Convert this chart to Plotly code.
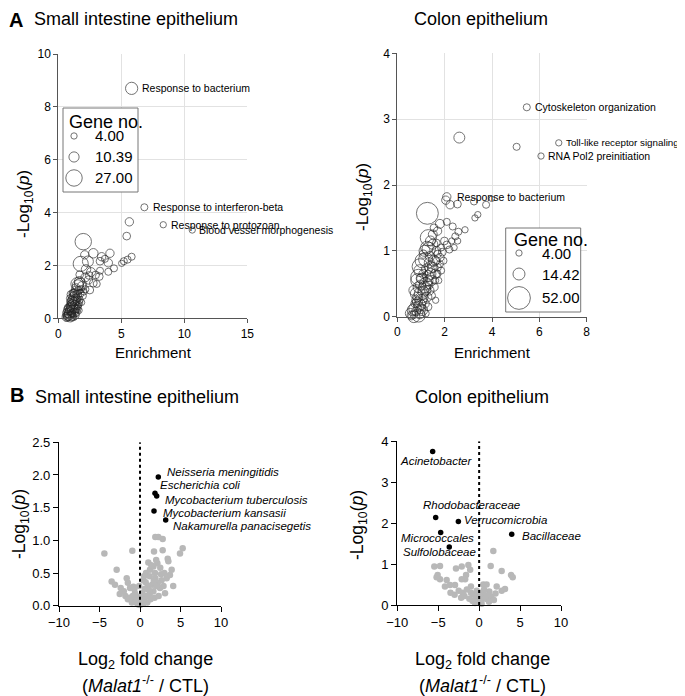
import plotly.graph_objects as go

# A: GO enrichment bubbles
si_enrich = [5.82, 6.83, 8.33, 10.63,
             5.64, 5.43, 1.98, 1.78, 2.78, 3.44, 4.10, 3.31, 3.97, 3.70, 5.82, 5.50, 5.20, 5.03,
             4.42, 3.97, 3.31, 2.96, 2.20, 2.45, 1.67, 1.86, 2.40, 2.78, 3.25, 2.50, 3.05, 2.15,
             1.55, 1.40, 1.75, 1.30, 1.55, 1.20, 1.45, 1.70, 1.10, 1.35, 1.60, 1.00, 1.25, 1.50,
             0.90, 1.15, 1.40, 0.85, 1.05, 1.30, 0.75, 0.95, 1.20, 0.70, 1.00, 1.85, 1.95, 0.95,
             1.65, 0.60, 1.10, 1.80, 2.05, 1.25,
             0.70, 0.80, 0.90, 1.00, 1.10, 1.20, 1.30, 1.40, 0.80, 0.90, 1.00, 1.10, 1.20, 1.30,
             1.40, 1.50, 1.60, 0.65, 1.05, 1.25, 1.35, 1.55, 1.65, 0.95, 1.15, 0.75, 1.50, 1.75,
             2.60, 2.35, 2.15, 2.10, 1.70]
si_logp = [8.70, 4.20, 3.54, 3.34,
           3.65, 3.11, 2.90, 2.06, 2.46, 2.33, 2.46, 2.16, 2.10, 2.25, 2.33, 2.22, 2.16, 2.08,
           1.89, 1.76, 1.80, 1.64, 1.85, 1.62, 1.39, 1.22, 1.45, 1.33, 1.58, 1.07, 1.30, 1.10,
           1.25, 1.05, 0.95, 0.85, 0.80, 0.70, 0.65, 0.70, 0.55, 0.50, 0.52, 0.42, 0.38, 0.35,
           0.30, 0.28, 0.22, 0.18, 0.15, 0.12, 0.08, 0.05, 0.04, 0.02, 0.90, 0.60, 0.85, 0.62,
           0.30, 0.10, 0.20, 1.10, 1.00, 0.95,
           0.20, 0.30, 0.40, 0.50, 0.65, 0.80, 0.95, 1.15, 0.10, 0.20, 0.30, 0.40, 0.55, 0.65,
           0.75, 0.90, 1.05, 0.05, 0.08, 0.20, 0.35, 0.45, 0.60, 0.75, 0.95, 0.40, 1.30, 1.30,
           1.75, 2.15, 1.55, 2.40, 1.65]
si_genes = [15, 5, 4, 4,
            7, 6, 27, 23, 9, 7, 7, 6, 7, 5, 5, 5, 5, 4,
            5, 5, 5, 6, 9, 6, 10, 8, 7, 6, 6, 6, 5, 5,
            12, 8, 6, 9, 7, 10, 6, 5, 8, 9, 5, 7, 10, 6,
            8, 12, 7, 9, 6, 8, 6, 10, 5, 5, 6, 4, 5, 5,
            4, 4, 5, 5, 4, 7,
            8, 10, 9, 8, 10, 9, 8, 7, 10, 12, 10, 12, 10, 9,
            8, 7, 6, 8, 9, 8, 7, 5, 5, 6, 6, 5, 16, 14,
            8, 12, 8, 7, 6]
si_terms = ["Response to bacterium", "Response to interferon-beta",
            "Response to protozoan", "Blood vessel morphogenesis"]
si_legend = [4.00, 10.39, 27.00]

co_enrich = [5.47, 6.82, 6.07, 2.09,
             2.62, 5.04, 3.99, 3.75, 3.24, 2.54, 2.23, 2.05, 3.40, 3.28, 2.86, 1.27, 1.31, 2.09,
             1.80, 2.34, 2.58, 2.45, 1.99, 2.09, 2.30, 2.20, 1.90, 0.96, 1.33, 1.20,
             1.50, 1.65, 1.80, 1.55, 1.40, 1.70, 1.60, 1.30, 1.45, 1.20, 1.55, 1.35, 1.10, 1.25,
             1.45, 1.00, 1.15, 0.90, 1.05, 0.80, 0.95, 0.70, 0.60, 1.20, 0.85, 0.98, 1.10, 1.75,
             1.85, 1.95, 1.62, 1.30, 0.75, 1.00, 1.38, 1.10, 2.40, 2.55,
             0.85, 0.95, 1.05, 1.15, 1.25, 1.40, 1.50, 0.70, 0.80, 0.90, 1.00, 1.15, 1.30, 1.40,
             1.50, 1.60, 1.70, 0.65, 0.75, 0.85, 0.95, 1.10, 1.20, 1.35, 1.05, 1.25, 1.35, 0.90,
             0.80, 0.55, 0.70, 0.90, 1.00, 1.60, 1.70, 1.80, 1.65, 1.85, 1.55, 1.70]
co_logp = [3.18, 2.64, 2.44, 1.82,
           2.72, 2.58, 1.79, 1.70, 1.75, 1.71, 1.70, 1.77, 1.55, 1.50, 1.32, 1.57, 1.20, 1.44,
           1.41, 1.37, 1.29, 1.22, 1.15, 1.09, 1.15, 1.02, 0.98, 0.76, 1.03, 0.87,
           1.10, 1.00, 0.90, 0.85, 0.75, 0.75, 0.65, 0.62, 0.55, 0.50, 0.45, 0.40, 0.38, 0.30,
           0.32, 0.25, 0.20, 0.15, 0.10, 0.08, 0.04, 0.03, 0.02, 0.05, 0.30, 0.48, 0.65, 0.55,
           0.70, 0.85, 0.25, 0.15, 0.20, 0.58, 0.92, 0.95, 1.05, 1.15,
           0.55, 0.70, 0.85, 1.00, 1.05, 1.15, 1.25, 0.40, 0.35, 0.45, 0.35, 0.45, 0.55, 0.65,
           0.75, 0.85, 0.95, 0.10, 0.12, 0.22, 0.18, 0.28, 0.40, 0.48, 0.58, 0.72, 0.82, 0.60,
           0.25, 0.05, 0.00, 0.02, 0.12, 0.55, 0.65, 0.80, 1.12, 1.05, 1.35, 1.30]
co_genes = [5, 4, 4, 7,
            12, 5, 3, 5, 5, 6, 7, 7, 4, 4, 4, 48, 26, 5,
            8, 5, 5, 5, 6, 6, 4, 5, 6, 25, 18, 20,
            10, 8, 7, 12, 14, 6, 9, 12, 10, 16, 7, 9, 12, 10,
            6, 14, 9, 10, 12, 8, 9, 6, 8, 5, 9, 10, 8, 4,
            5, 5, 4, 6, 7, 9, 9, 7, 4, 4,
            18, 14, 20, 12, 16, 10, 8, 10, 14, 12, 18, 14, 10, 12,
            10, 8, 6, 12, 16, 10, 14, 8, 10, 6, 12, 12, 10, 25,
            8, 10, 14, 18, 10, 5, 5, 5, 6, 5, 6, 7]
co_terms = ["Cytoskeleton organization", "Toll-like receptor signaling",
            "RNA Pol2 preinitiation", "Response to bacterium"]
co_legend = [4.00, 14.42, 52.00]

# B: microbiome volcano plots
si_fc = [-4.40, -0.95, -2.88, -3.50, -1.64, 1.89, 2.26, 2.80, 5.27, 4.94, 2.80, 1.73, 3.42,
         3.50, 2.14, 1.65, 1.03, 1.23, 1.85, 3.91, 3.29, 2.67, 3.70, 0.74, 0.41, -2.38, -3.09,
         -1.23, -0.82, -0.62, 4.10, 2.47, 1.65, 3.09, 2.00, 1.40, 2.50, 1.20, 1.90, 2.20, 1.00,
         1.50, 2.90, -1.80, -1.50, -0.50, -0.30, 0.20, 0.50, 0.80, 1.20, -1.00, -0.70, 0.30,
         0.60, 1.30, 0.90, -0.20, 0.00, 0.40, -0.40, 1.80, 2.30, -2.00, -1.20, 0.10, -0.10,
         0.70, 1.10, -2.50, -0.90, 2.00, 1.70, 0.50, 2.60, 3.00, -1.50]
si_p = [0.80, 0.84, 0.55, 0.37, 0.42, 1.05, 1.05, 1.02, 0.88, 0.80, 0.85, 0.83, 0.72,
        0.68, 0.65, 0.60, 0.66, 0.55, 0.50, 0.55, 0.42, 0.39, 0.47, 0.50, 0.39, 0.27, 0.32,
        0.27, 0.29, 0.19, 0.30, 0.27, 0.22, 0.19, 0.70, 0.62, 0.58, 0.45, 0.42, 0.35, 0.30,
        0.32, 0.30, 0.15, 0.10, 0.08, 0.12, 0.05, 0.10, 0.15, 0.18, 0.05, 0.25, 0.20,
        0.26, 0.10, 0.05, 0.02, 0.01, 0.03, 0.04, 0.12, 0.15, 0.22, 0.12, 0.15, 0.30,
        0.36, 0.24, 0.18, 0.15, 0.30, 0.38, 0.45, 0.48, 0.50, 0.35]
si_hit_fc = [2.26, 1.85, 2.06, 1.73, 3.17]
si_hit_p = [1.97, 1.72, 1.68, 1.45, 1.31]
si_hit_names = ["Neisseria meningitidis", "Escherichia coli", "Mycobacterium tuberculosis",
                "Mycobacterium kansasii", "Nakamurella panacisegetis"]

co_fc = [1.73, -5.48, -4.78, -2.13, -2.83, -1.32, -1.10, -1.60, -1.71, -2.13, -5.07, -4.78,
         -3.97, -3.56, -2.95, -4.18, -5.20, 1.41, 2.75, 3.89, 4.10, 0.51, 0.91, 2.14, 1.24,
         2.75, 3.16, -2.50, -2.00, -1.50, -1.00, -0.70, -0.40, -0.20, 0.00, 0.20, 0.40, 0.60,
         0.80, 1.00, 1.50, 2.00, -1.20, -0.80, 0.30, -0.50, 1.20, -1.80, -3.00, -2.20, 0.60,
         -0.30, 1.80, -3.50, -1.00, 0.10]
co_p = [1.32, 0.94, 0.95, 0.94, 0.89, 0.98, 0.86, 0.73, 0.63, 0.63, 0.73, 0.63,
        0.61, 0.49, 0.49, 0.45, 0.68, 0.95, 0.83, 0.73, 0.68, 0.50, 0.50, 0.45, 0.33,
        0.35, 0.39, 0.35, 0.30, 0.38, 0.30, 0.25, 0.20, 0.12, 0.05, 0.10, 0.18, 0.25,
        0.15, 0.22, 0.20, 0.28, 0.15, 0.10, 0.03, 0.05, 0.08, 0.22, 0.25, 0.18, 0.38,
        0.35, 0.12, 0.30, 0.45, 0.30]
co_hit_fc = [-5.68, -5.31, -2.54, -4.70, -3.65, 3.98]
co_hit_p = [3.75, 2.14, 2.04, 1.77, 1.42, 1.73]
co_hit_names = ["Acinetobacter", "Rhodobacteraceae", "Verrucomicrobia",
                "Micrococcales", "Sulfolobaceae", "Bacillaceae"]

# page body has an 8px margin, so the figure is drawn 8px in from the corner
OFF = 8
W, H = 685 - OFF, 696 - OFF
FONT = "Liberation Sans, Arial, sans-serif"
SIZEREF = 0.2


def px_x(p):
    return max(p - OFF, 0) / W


def px_y(p):
    return 1 - max(p - OFF, 0) / H


fig = go.Figure()

bubble = dict(sizemode="area", sizeref=SIZEREF, color="rgba(0,0,0,0)",
              line=dict(color="#222", width=0.9))

fig.add_trace(go.Scatter(x=si_enrich, y=si_logp, mode="markers", xaxis="x", yaxis="y",
                         marker=dict(size=si_genes, **bubble), cliponaxis=False))
fig.add_trace(go.Scatter(x=co_enrich, y=co_logp, mode="markers", xaxis="x2", yaxis="y2",
                         marker=dict(size=co_genes, **bubble), cliponaxis=False))

# size legends (drawn on their own hidden axes)
si_leg_y = [0.667, 0.417, 0.167]
co_leg_y = [0.702, 0.452, 0.167]
fig.add_trace(go.Scatter(x=[0.147] * 3, y=si_leg_y, mode="markers",
                         xaxis="x5", yaxis="y5", marker=dict(size=si_legend, **bubble)))
fig.add_trace(go.Scatter(x=[0.177] * 3, y=co_leg_y, mode="markers",
                         xaxis="x6", yaxis="y6", marker=dict(size=co_legend, **bubble)))

fig.add_trace(go.Scatter(x=si_fc, y=si_p, mode="markers", xaxis="x3", yaxis="y3",
                         marker=dict(size=6.5, color="#b8b8b8"), cliponaxis=False))
fig.add_trace(go.Scatter(x=si_hit_fc, y=si_hit_p, mode="markers", xaxis="x3", yaxis="y3",
                         marker=dict(size=5.5, color="black"), cliponaxis=False))
fig.add_trace(go.Scatter(x=co_fc, y=co_p, mode="markers", xaxis="x4", yaxis="y4",
                         marker=dict(size=6.5, color="#b8b8b8"), cliponaxis=False))
fig.add_trace(go.Scatter(x=co_hit_fc, y=co_hit_p, mode="markers", xaxis="x4", yaxis="y4",
                         marker=dict(size=5.5, color="black"), cliponaxis=False))

tick_a = dict(size=12, family=FONT, color="black")
tick_b = dict(size=13, family=FONT, color="black")


def axis_a(dom, rng, dtick, anchor):
    return dict(domain=dom, range=rng, dtick=dtick, anchor=anchor, showgrid=True,
                gridcolor="#e2e2e2", gridwidth=1, zeroline=False, showline=True,
                linecolor="#555", linewidth=1, ticks="outside", ticklen=4,
                tickcolor="#555", tickfont=tick_a, automargin=False)


def axis_b(dom, rng, dtick, anchor, fmt=None):
    d = dict(domain=dom, range=rng, dtick=dtick, anchor=anchor, showgrid=False,
             zeroline=False, showline=True, linecolor="black", linewidth=1.3,
             ticks="outside", ticklen=5, tickwidth=1.3, tickcolor="black", tickfont=tick_b,
             automargin=False)
    if fmt:
        d["tickformat"] = fmt
    return d


hidden = dict(range=[0, 1], visible=False, fixedrange=True, automargin=False)

fig.update_layout(
    width=W, height=H, margin=dict(l=0, r=0, t=0, b=0, autoexpand=False),
    template="none",
    paper_bgcolor="white", plot_bgcolor="white", showlegend=False,
    font=dict(family=FONT, color="black"),
    xaxis=axis_a([px_x(58.3), px_x(247.3)], [0, 15], 5, "y"),
    yaxis=axis_a([px_y(318.3), px_y(54)], [0, 10], 2, "x"),
    xaxis2=axis_a([px_x(397.3), px_x(586.7)], [0, 8], 2, "y2"),
    yaxis2=axis_a([px_y(316.7), px_y(53.3)], [0, 4], 1, "x2"),
    xaxis3=axis_b([px_x(59), px_x(221)], [-10, 10], 5, "y3"),
    yaxis3=axis_b([px_y(605.7), px_y(442.3)], [0, 2.5], 0.5, "x3", ".1f"),
    xaxis4=axis_b([px_x(397.3), px_x(561)], [-10, 10], 5, "y4"),
    yaxis4=axis_b([px_y(605), px_y(441.3)], [0, 4], 1, "x4"),
    xaxis5=dict(domain=[px_x(63), px_x(138)], anchor="y5", **hidden),
    yaxis5=dict(domain=[px_y(192), px_y(108)], anchor="x5", **hidden),
    xaxis6=dict(domain=[px_x(505.7), px_x(580.7)], anchor="y6", **hidden),
    yaxis6=dict(domain=[px_y(312), px_y(228)], anchor="x6", **hidden),
)

shapes = [
    dict(type="rect", xref="paper", yref="paper", x0=px_x(63), x1=px_x(138),
         y0=px_y(192), y1=px_y(108), line=dict(color="#777", width=1)),
    dict(type="rect", xref="paper", yref="paper", x0=px_x(505.7), x1=px_x(580.7),
         y0=px_y(312), y1=px_y(228), line=dict(color="#777", width=1)),
    dict(type="line", xref="x3", yref="y3", x0=0, x1=0, y0=0, y1=2.5,
         line=dict(color="black", width=2, dash="dot")),
    dict(type="line", xref="x4", yref="y4", x0=0, x1=0, y0=0, y1=4,
         line=dict(color="black", width=2, dash="dot")),
]
fig.update_layout(shapes=shapes)

ann = []


def text(x, y, s, size, xanchor="center", yanchor="middle", angle=0, **kw):
    ann.append(dict(x=px_x(x), y=px_y(y), xref="paper", yref="paper", text=s,
                    showarrow=False, xanchor=xanchor, yanchor=yanchor, textangle=angle,
                    font=dict(size=size, family=FONT, color="black"), **kw))


# panel letters and titles (top row pinned to the top edge of the figure)
text(8, 8, "<b>A</b>", 20, xanchor="left", yanchor="top", borderpad=0)
text(33, 8, "Small intestine epithelium", 18, xanchor="left", yanchor="top", borderpad=0)
text(412.7, 8, "Colon epithelium", 18, xanchor="left", yanchor="top", borderpad=0)
text(8, 395, "<b>B</b>", 20, xanchor="left")
text(33, 397, "Small intestine epithelium", 18, xanchor="left")
text(412.7, 397, "Colon epithelium", 18, xanchor="left")

# axis titles
ylab = "-Log<sub>10</sub>(<i>p</i>)"
text(25, 204, ylab, 17, angle=-90)
text(364, 197, ylab, 17, angle=-90)
text(20, 524, ylab, 17.5, angle=-90, borderpad=0)
text(358, 525, ylab, 17.5, angle=-90)
text(153.5, 352, "Enrichment", 15)
text(492, 352, "Enrichment", 15)
for cx in (145, 482.5):
    text(cx, 660, "Log<sub>2</sub> fold change", 18)
    text(cx, 684, "(<i>Malat1</i><sup>-/-</sup> / CTL)", 18)

# legend titles and values
text(67, 122, "Gene no.", 18, xanchor="left")
text(512, 240, "Gene no.", 18, xanchor="left")
for v, yy in zip(si_legend, si_leg_y):
    ann.append(dict(x=0.4, y=yy, xref="x5", yref="y5", text="%.2f" % v, showarrow=False,
                    xanchor="left", font=dict(size=15, family=FONT, color="black")))
for v, yy in zip(co_legend, co_leg_y):
    ann.append(dict(x=0.457, y=yy, xref="x6", yref="y6", text="%.2f" % v, showarrow=False,
                    xanchor="left", font=dict(size=15, family=FONT, color="black")))

# term labels on bubbles
term_shift = [8, 7, 6, 5]
for i, s in enumerate(si_terms):
    ann.append(dict(x=si_enrich[i], y=si_logp[i], xref="x", yref="y", text=s,
                    showarrow=False, xanchor="left", xshift=term_shift[i],
                    font=dict(size=10.5, family=FONT, color="black")))
co_shift = [6, 5, 5, 8]
co_fs = [10.5, 9.8, 10.5, 10.5]
for i, s in enumerate(co_terms):
    ann.append(dict(x=co_enrich[i], y=co_logp[i], xref="x2", yref="y2", text=s,
                    showarrow=False, xanchor="left", xshift=co_shift[i],
                    font=dict(size=co_fs[i], family=FONT, color="black")))

# microbe labels
si_off = [(7, 5, "left"), (3, 8, "left"), (6, -4, "left"), (7, -2, "left"), (5, -6, "left")]
for i, s in enumerate(si_hit_names):
    dx, dy, xa = si_off[i]
    ann.append(dict(x=si_hit_fc[i], y=si_hit_p[i], xref="x3", yref="y3", text="<i>%s</i>" % s,
                    showarrow=False, xanchor=xa, xshift=dx, yshift=dy,
                    font=dict(size=11.5, family=FONT, color="black")))
co_off = [(3, -9, "center"), (36, 12, "center"), (4, 2, "left"), (-3, -5, "center"),
          (-10, -5, "center"), (8, -2, "left")]
for i, s in enumerate(co_hit_names):
    dx, dy, xa = co_off[i]
    ann.append(dict(x=co_hit_fc[i], y=co_hit_p[i], xref="x4", yref="y4", text="<i>%s</i>" % s,
                    showarrow=False, xanchor=xa, xshift=dx, yshift=dy,
                    font=dict(size=11.5, family=FONT, color="black")))

fig.update_layout(annotations=ann)

fig.write_html("out.html")
